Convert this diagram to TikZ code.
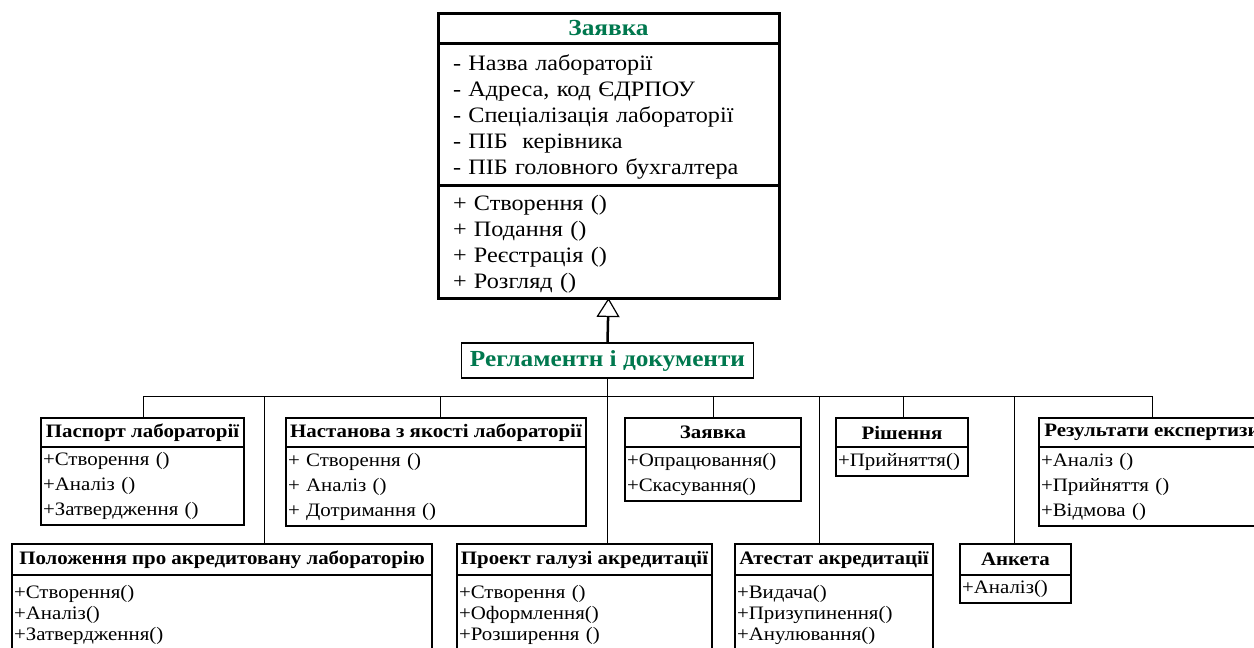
\documentclass[tikz,border=0pt]{standalone}
\usepackage{fontspec}
\setmainfont{Liberation Serif}[FakeStretch=1.1]
\usetikzlibrary{arrows.meta}
\definecolor{zelen}{RGB}{0,120,78}

\tikzset{
  klas/.style={draw, line width=1.5pt, inner sep=0pt, outer sep=0pt, anchor=north west, minimum height=29, font=\bfseries\fontsize{19}{22}\selectfont},
  metody/.style={draw, line width=1.5pt, inner xsep=2pt, inner ysep=0pt, outer sep=0pt, anchor=north west, align=left, font=\fontsize{19}{25}\selectfont},
  nyzh/.style={metody, font=\fontsize{19}{21}\selectfont},
  lin/.style={line width=1pt},
}

\begin{document}
\begin{tikzpicture}[x=1pt, y=-1pt]
\useasboundingbox (0,0) rectangle (1254,648);
\clip (0,0) rectangle (1254,648);

% golovnyi klas
\node[draw, line width=3pt, inner sep=0pt, outer sep=0pt, anchor=north west, minimum width=341, minimum height=30, text=zelen, font=\bfseries\fontsize{23}{26}\selectfont] (zT) at (438,13) {Заявка};
\node[draw, line width=3pt, inner xsep=15pt, inner ysep=0pt, outer sep=0pt, anchor=north west, minimum height=142, text width=311, text height=21pt, align=left, font=\fontsize{22}{26}\selectfont] (zA) at (zT.south west) {- Назва лабораторії\\- Адреса, код ЄДРПОУ\\- Спеціалізація лабораторії\\- ПІБ~ керівника\\- ПІБ головного бухгалтера};
\node[draw, line width=3pt, inner xsep=15pt, inner ysep=0pt, outer sep=0pt, anchor=north west, minimum height=113, text width=311, text height=21pt, align=left, font=\fontsize{22}{26}\selectfont] (zM) at (zA.south west) {+ Створення ()\\+ Подання ()\\+ Реєстрація ()\\+ Розгляд ()};

\node[draw, line width=1.5pt, inner sep=0pt, outer sep=0pt, minimum width=292, minimum height=35, text=zelen, font=\bfseries\fontsize{23}{26}\selectfont] (reg) at (607.5,360.5) {Регламентн і документи};

% verkhnii riad
\node[klas, minimum width=203] (pas) at (41,418) {Паспорт лабораторії};
\node[metody, minimum height=78, text width=199] (pasM) at (pas.south west) {+Створення ()\\+Аналіз ()\\+Затвердження ()};
\node[klas, minimum width=300] (nas) at (286,418) {Настанова з якості лабораторії};
\node[metody, minimum height=79, text width=296] (nasM) at (nas.south west) {+ Створення ()\\+ Аналіз ()\\+ Дотримання ()};
\node[klas, minimum width=176] (zv) at (625,418) {Заявка};
\node[metody, minimum height=54, text width=172] (zvM) at (zv.south west) {+Опрацювання()\\+Скасування()};
\node[klas, minimum width=132] (rish) at (836,418) {Рішення};
\node[metody, minimum height=29, text width=128] (rishM) at (rish.south west) {+Прийняття()};
\node[klas, minimum width=226] (rez) at (1039,418) {Результати експертизи};
\node[metody, minimum height=79, text width=222] (rezM) at (rez.south west) {+Аналіз ()\\+Прийняття ()\\+Відмова ()};

% nyzhnii riad
\node[klas, minimum width=420, minimum height=31] (pol) at (12,544) {Положення про акредитовану лабораторію};
\node[nyzh, minimum height=80, text width=416] (polM) at (pol.south west) {+Створення()\\+Аналіз()\\+Затвердження()};
\node[klas, minimum width=255, minimum height=31] (pro) at (457,544) {Проект галузі акредитації};
\node[nyzh, minimum height=80, text width=251] (proM) at (pro.south west) {+Створення ()\\+Оформлення()\\+Розширення ()};
\node[klas, minimum width=198, minimum height=31] (ate) at (735,544) {Атестат акредитації};
\node[nyzh, minimum height=80, text width=194] (ateM) at (ate.south west) {+Видача()\\+Призупинення()\\+Анулювання()};
\node[klas, minimum width=111, minimum height=31] (ank) at (960,544) {Анкета};
\node[metody, minimum height=28, text width=107] (ankM) at (ank.south west) {+Аналіз()};

% zviazky
\draw[line width=2.5pt, -{Triangle[open, length=19pt, width=23pt, line width=1.2pt]}] (reg.north) -- (zM.south);
\draw[lin] (reg.south) -- (reg.south |- pro.north);
\coordinate (busL) at (143,396);
\coordinate (busR) at (1152,396);
\draw[lin] (busL) -- (busR);
\draw[lin] (busL) -- (busL |- pas.north);
\coordinate (t2) at (264,396);
\draw[lin] (t2) -- (t2 |- pol.north);
\coordinate (t3) at (440,396);
\draw[lin] (t3) -- (t3 |- nas.north);
\coordinate (t4) at (713,396);
\draw[lin] (t4) -- (t4 |- zv.north);
\coordinate (t5) at (819,396);
\draw[lin] (t5) -- (t5 |- ate.north);
\coordinate (t6) at (903,396);
\draw[lin] (t6) -- (t6 |- rish.north);
\coordinate (t7) at (1014,396);
\draw[lin] (t7) -- (t7 |- ank.north);
\draw[lin] (busR) -- (busR |- rez.north);

\end{tikzpicture}
\end{document}
